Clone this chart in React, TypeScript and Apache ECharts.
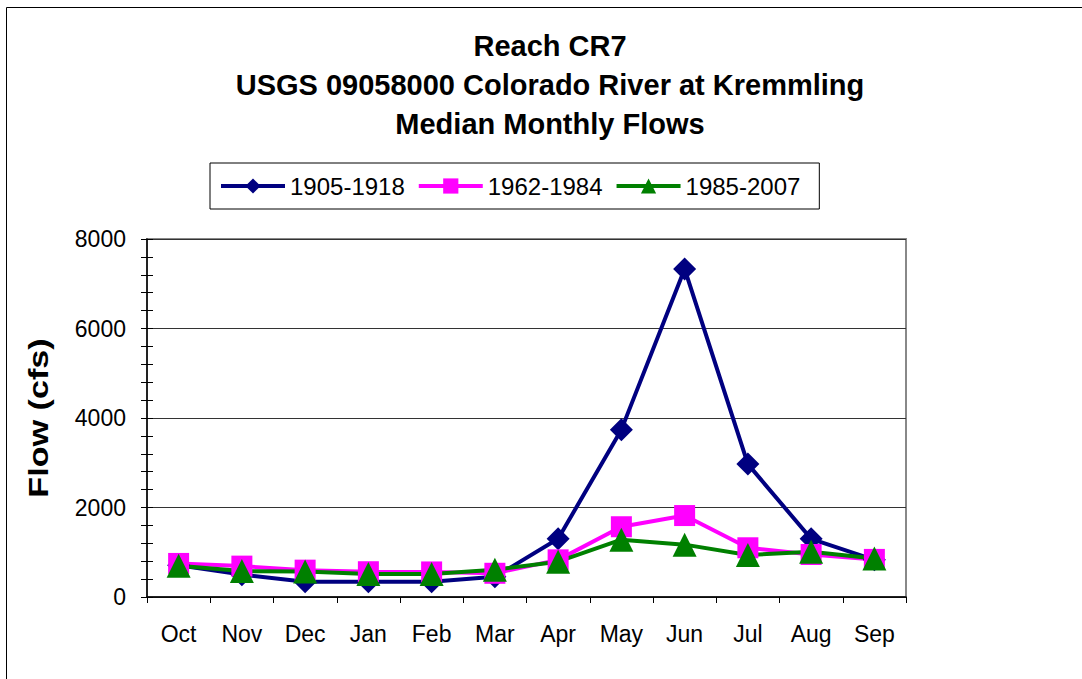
import React, { useEffect, useRef } from "react";
import * as echarts from "echarts";

const months = ["Oct", "Nov", "Dec", "Jan", "Feb", "Mar", "Apr", "May", "Jun", "Jul", "Aug", "Sep"];
const flow1905 = [710, 500, 340, 340, 340, 450, 1300, 3740, 7330, 2970, 1300, 830];
const flow1962 = [750, 690, 600, 565, 560, 530, 830, 1570, 1820, 1100, 950, 840];
const flow1985 = [700, 580, 570, 515, 515, 610, 790, 1280, 1170, 940, 1010, 860];
const yTicks = { min: 0, max: 8000, interval: 2000 };
const titleLines = ["Reach CR7", "USGS 09058000 Colorado River at Kremmling", "Median Monthly Flows"];
const yAxisTitle = "Flow (cfs)";

const FONT = "'Liberation Sans', Arial, sans-serif";

export default function App() {
  const ref = useRef<HTMLDivElement>(null);
  useEffect(() => {
    const chart = echarts.init(ref.current!, null, { renderer: "svg" });
    const mk = (name: string, data: number[], color: string, symbol: string, size: number) => ({
      name,
      type: "line",
      data,
      symbol,
      symbolSize: size,
      lineStyle: { color, width: 4 },
      itemStyle: { color },
      z: 3,
    });
    chart.setOption({
      animation: false,
      backgroundColor: "#fff",
      grid: { left: 147, right: 176, top: 239, bottom: 82, show: true, borderColor: "#888", borderWidth: 2, backgroundColor: "transparent" },
      legend: {
        left: 210,
        top: 163,
        padding: [11, 19, 11, 9],
        itemGap: 12,
        itemWidth: 64,
        itemHeight: 19,
        borderColor: "#000",
        borderWidth: 1,
        lineStyle: { width: 4 },
        textStyle: { fontSize: 24, color: "#000", fontFamily: FONT },
      },
      xAxis: {
        type: "category",
        data: months,
        boundaryGap: true,
        axisLine: { lineStyle: { color: "#000", width: 1.5 } },
        axisTick: { show: true, length: 6, lineStyle: { color: "#000" } },
        axisLabel: { fontSize: 23, color: "#000", fontFamily: FONT, margin: 25 },
        splitLine: { show: false },
      },
      yAxis: [
        {
          type: "value",
          ...yTicks,
          axisLine: { show: true, lineStyle: { color: "#000", width: 1.5 } },
          axisTick: { show: true, length: 6, lineStyle: { color: "#000" } },
          minorTick: { show: true, splitNumber: 5, length: 6, lineStyle: { color: "#000" } },
          axisLabel: { fontSize: 23, color: "#000", fontFamily: FONT, margin: 21, formatter: (v: number) => String(v) },
          splitLine: { show: true, lineStyle: { color: "#333", width: 1 } },
        },
        {
          type: "value",
          ...yTicks,
          position: "left",
          axisLine: { show: false },
          axisTick: { show: true, inside: true, length: 6, lineStyle: { color: "#000" } },
          minorTick: { show: true, splitNumber: 5, length: 6, lineStyle: { color: "#000" } },
          axisLabel: { show: false },
          splitLine: { show: false },
        },
      ],
      graphic: [
        { type: "rect", shape: { x: 6.5, y: 7.5, width: 2000, height: 2000 }, style: { fill: "none", stroke: "#000", lineWidth: 1 }, silent: true },
        ...titleLines.map((t, i) => ({
          type: "text",
          x: 550,
          y: 46 + i * 39,
          style: { text: t, font: `bold 29px ${FONT}`, fill: "#000", textAlign: "center", textVerticalAlign: "middle" },
        })),
        {
          type: "text",
          x: 39,
          y: 418,
          rotation: Math.PI / 2,
          scaleX: 1.22,
          style: { text: yAxisTitle, font: `bold 28px ${FONT}`, fill: "#000", textAlign: "center", textVerticalAlign: "middle" },
        },
      ],
      series: [
        mk("1905-1918", flow1905, "#000080", "diamond", 23),
        mk("1962-1984", flow1962, "#FF00FF", "rect", 21),
        mk("1985-2007", flow1985, "#008000", "triangle", 24),
      ],
    });
    return () => chart.dispose();
  }, []);
  return <div ref={ref} style={{ position: "absolute", left: 0, top: 0, width: 1082, height: 679 }} />;
}
